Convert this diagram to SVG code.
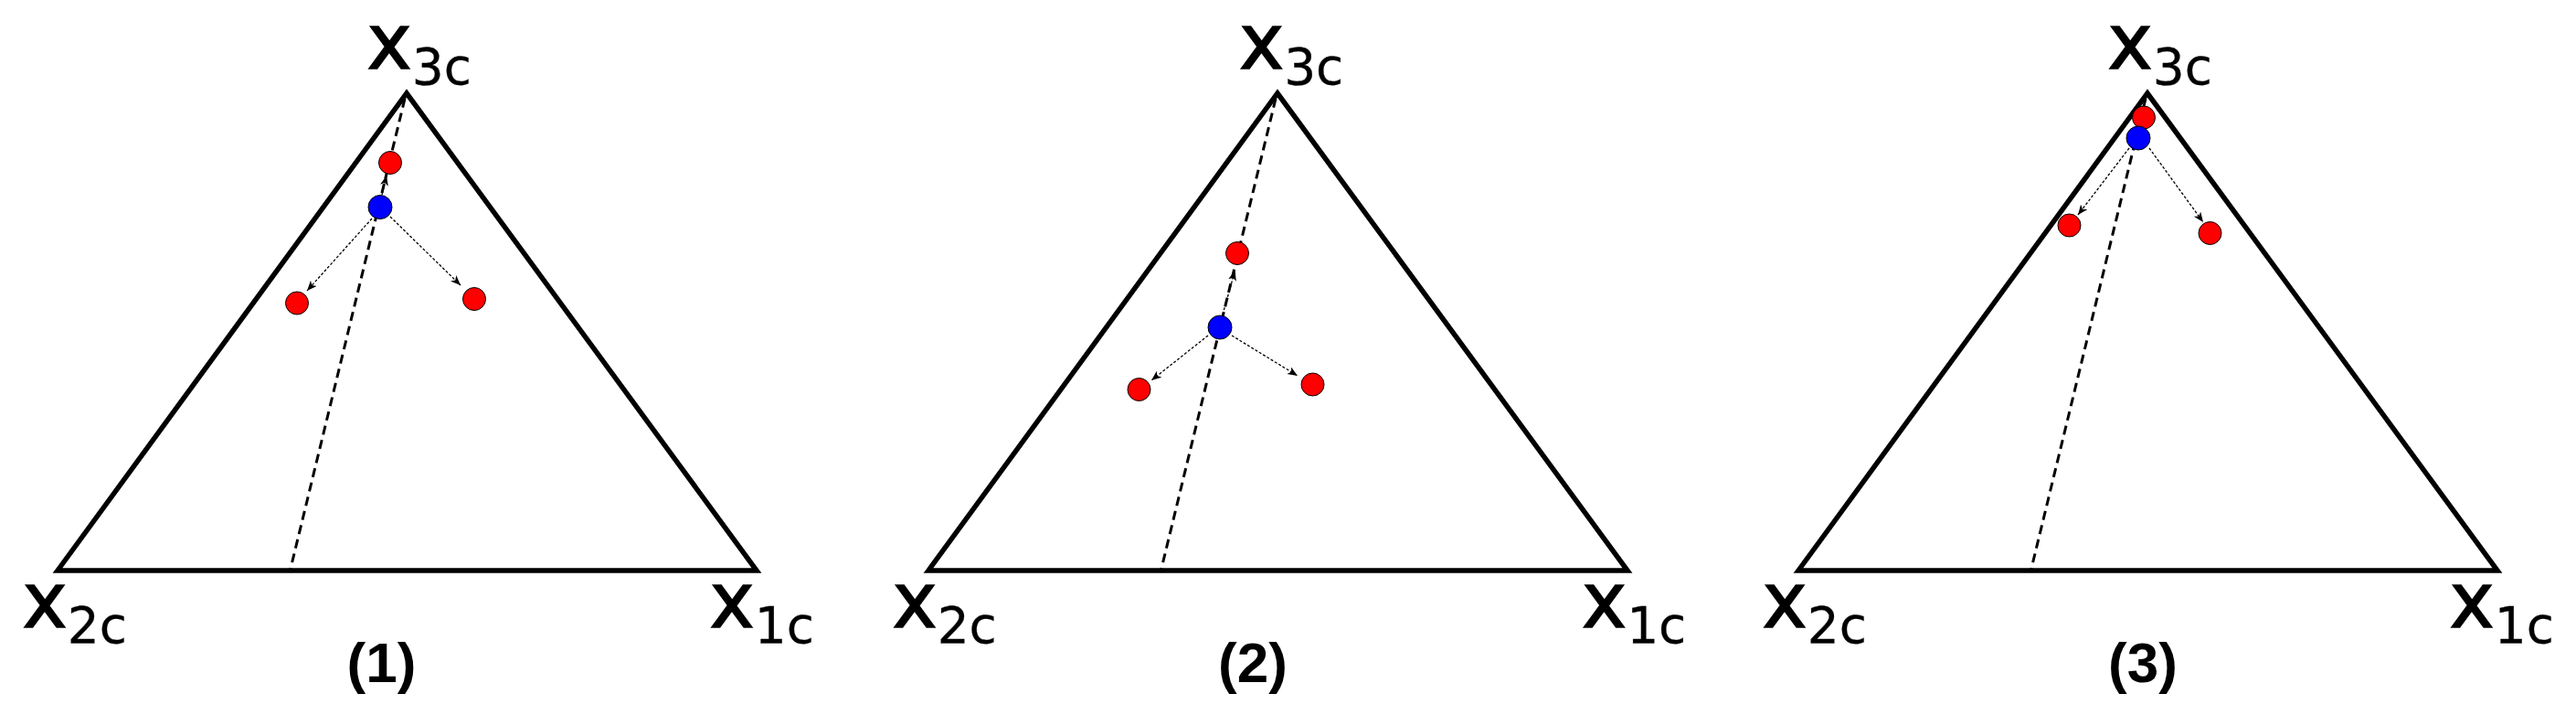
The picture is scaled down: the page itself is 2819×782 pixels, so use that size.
<svg xmlns="http://www.w3.org/2000/svg" width="2819" height="782" viewBox="0 0 2819 782">
<defs>
<style>
.tri{fill:none;stroke:#000;stroke-width:5.5;stroke-linejoin:miter}
.guide{stroke:#000;stroke-width:3;stroke-dasharray:10 6;fill:none}
.arr{stroke:#000;stroke-width:1.3;stroke-dasharray:3 2;fill:none;marker-end:url(#ah)}
.red{fill:#ff0000;stroke:#000;stroke-width:1}
.blue{fill:#0000ff;stroke:#000;stroke-width:1}
.lab{font-family:"DejaVu Sans","Liberation Sans",sans-serif;font-size:83px;fill:#000;stroke:#000;stroke-width:1.5}
.sub{font-size:55px;stroke-width:0.3}
.cap{font-family:"Liberation Sans",Arial,sans-serif;font-weight:bold;font-size:62px;fill:#000;text-anchor:middle}
</style>
<marker id="ah" markerUnits="userSpaceOnUse" markerWidth="12" markerHeight="10" refX="11" refY="4.5" orient="auto" viewBox="0 0 12 10">
<path d="M0,0 L11,4.5 L0,9 L3,4.5 Z" fill="#000"/>
</marker>
</defs>
<rect width="2819" height="782" fill="#fff"/>

<g id="panel1">
<path class="tri" d="M63,624 L445,102 L828,624 Z"/>
<line class="guide" x1="443" y1="108" x2="317" y2="626"/>
<text class="lab" x="401.6" y="75">x<tspan class="sub" dy="17">3c</tspan></text>
<text class="lab" x="24.6" y="686">x<tspan class="sub" dy="17">2c</tspan></text>
<text class="lab" x="776.6" y="686">x<tspan class="sub" dy="17">1c</tspan></text>
<text class="cap" x="417.5" y="746">(1)</text>
</g>

<g id="panel2">
<path class="tri" d="M1016,624 L1398,102 L1781,624 Z"/>
<line class="guide" x1="1396" y1="108" x2="1270" y2="626"/>
<text class="lab" x="1356" y="75">x<tspan class="sub" dy="17">3c</tspan></text>
<text class="lab" x="976.5" y="686">x<tspan class="sub" dy="17">2c</tspan></text>
<text class="lab" x="1731" y="686">x<tspan class="sub" dy="17">1c</tspan></text>
<text class="cap" x="1371" y="746">(2)</text>
</g>

<g id="panel3">
<path class="tri" d="M1968,624 L2350,102 L2733,624 Z"/>
<line class="guide" x1="2348" y1="108" x2="2222" y2="626"/>
<text class="lab" x="2306.6" y="75">x<tspan class="sub" dy="17">3c</tspan></text>
<text class="lab" x="1928.6" y="686">x<tspan class="sub" dy="17">2c</tspan></text>
<text class="lab" x="2680.6" y="686">x<tspan class="sub" dy="17">1c</tspan></text>
<text class="cap" x="2345" y="746">(3)</text>
</g>

<g id="connectors">
<line class="arr" x1="418" y1="213" x2="423" y2="192"/>
<line class="arr" x1="407" y1="239" x2="336" y2="318"/>
<line class="arr" x1="427" y1="237" x2="504" y2="312"/>
<line class="arr" x1="1338" y1="344" x2="1351.5" y2="296"/>
<line class="arr" x1="1322" y1="367" x2="1260" y2="416"/>
<line class="arr" x1="1348" y1="367" x2="1420" y2="411"/>
<line class="arr" x1="2330" y1="162" x2="2274" y2="235"/>
<line class="arr" x1="2352" y1="162" x2="2411" y2="243"/>
</g>

<g id="p1-blue"><circle class="blue" cx="416" cy="226.5" r="13"/></g>
<g id="p1-red-top"><circle class="red" cx="427" cy="178" r="12.5"/></g>
<g id="p1-red-left"><circle class="red" cx="325" cy="331.5" r="12.5"/></g>
<g id="p1-red-right"><circle class="red" cx="519" cy="327" r="12.5"/></g>

<g id="p2-blue"><circle class="blue" cx="1335" cy="358" r="13"/></g>
<g id="p2-red-top"><circle class="red" cx="1354" cy="277" r="12.5"/></g>
<g id="p2-red-left"><circle class="red" cx="1246.5" cy="426" r="12.5"/></g>
<g id="p2-red-right"><circle class="red" cx="1436.5" cy="420.5" r="12.5"/></g>

<g id="p3-red-top"><circle class="red" cx="2346" cy="128.5" r="12.5"/></g>
<g id="p3-blue"><circle class="blue" cx="2340" cy="151" r="13"/></g>
<g id="p3-red-left"><circle class="red" cx="2264.5" cy="246.5" r="12.5"/></g>
<g id="p3-red-right"><circle class="red" cx="2418.5" cy="255" r="12.5"/></g>
</svg>
